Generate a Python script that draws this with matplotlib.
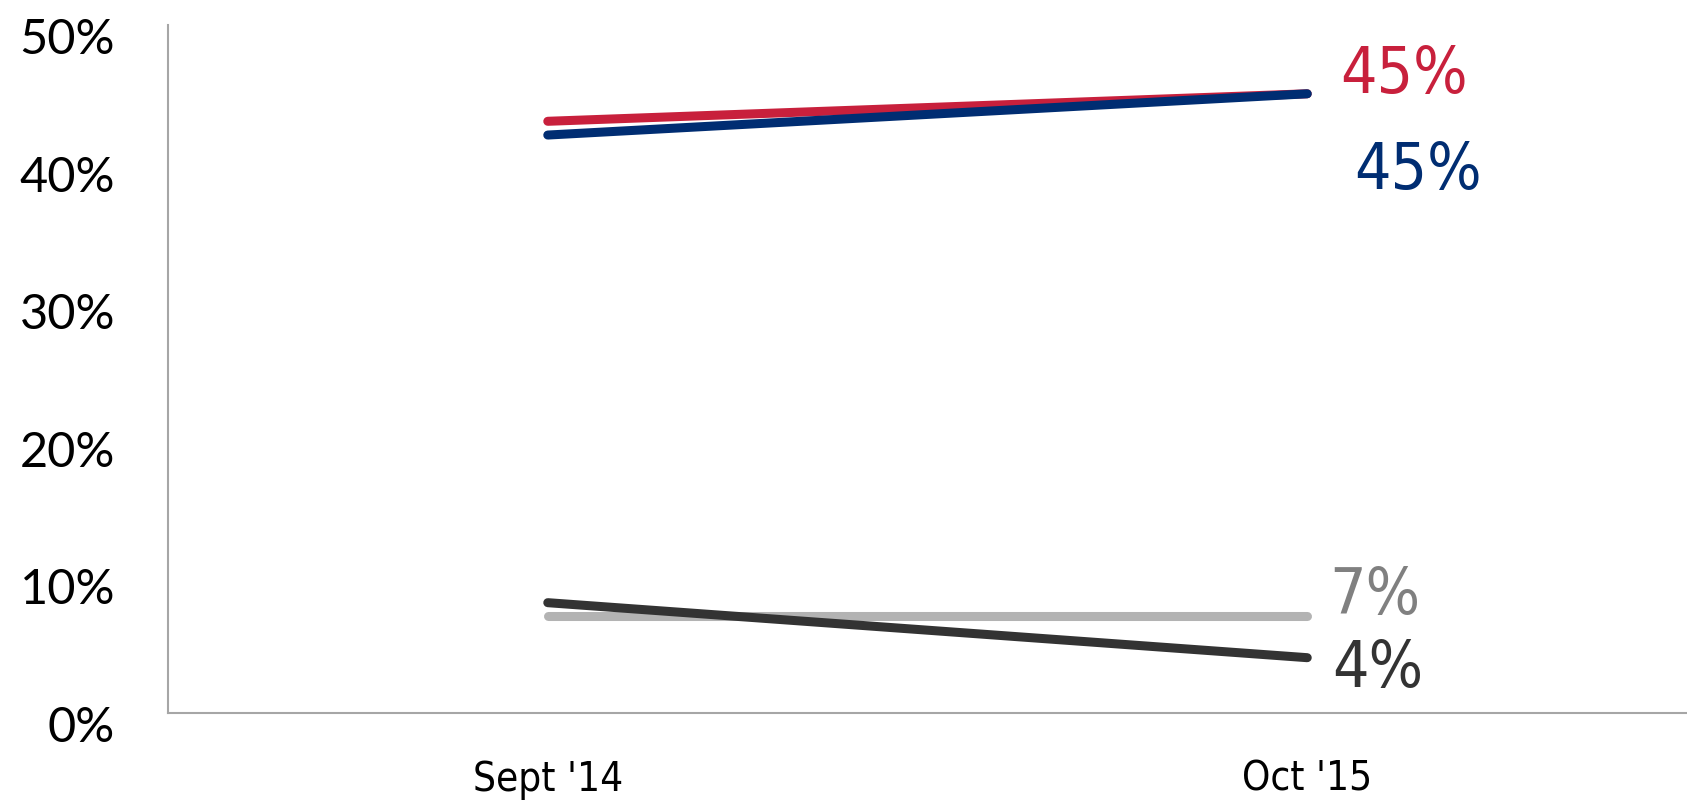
import matplotlib.pyplot as plt
from matplotlib.transforms import ScaledTranslation

categories = ["Sept '14", "Oct '15"]
red_vals = [43, 45]
navy_vals = [42, 45]
lightgrey_vals = [7, 7]
dark_vals = [8, 4]
y_ticks = [0, 10, 20, 30, 40, 50]

fig = plt.figure(figsize=(16.87, 8.03), dpi=100)
ax = fig.add_axes([0.0996, 0.1112, 0.9004, 0.8564])

x = list(range(len(categories)))
series = [
    (lightgrey_vals, '#b3b3b3', '#808080', (22, 21)),
    (dark_vals, '#333333', '#333333', (25, -10)),
    (red_vals, '#c8203c', '#c8203c', (33, 20)),
    (navy_vals, '#002d72', '#002d72', (47, -76)),
]
for vals, col, lab_col, off in series:
    ax.plot(x, vals, '-', color=col, linewidth=6.5, solid_capstyle='round')
    ax.annotate(f'{vals[-1]}%', xy=(x[-1], vals[-1]), xytext=off,
                textcoords='offset pixels', ha='left', va='center',
                fontsize=46, color=lab_col, family='DejaVu Sans', stretch='condensed')

ax.set_xlim(-0.5, 1.5)
ax.set_ylim(0, 50)
ax.set_yticks(y_ticks)
ax.set_yticklabels([f'{t}%' for t in y_ticks], fontsize=35, family=['Lato', 'DejaVu Sans'])
ax.set_xticks(x)
ax.set_xticklabels(categories, fontsize=29, family='DejaVu Sans', stretch='condensed')
ax.tick_params(length=0)
ax.tick_params(axis='y', pad=38)
ax.tick_params(axis='x', pad=33)
shift = ScaledTranslation(0, -0.10, fig.dpi_scale_trans)
for lab in ax.get_yticklabels():
    lab.set_transform(lab.get_transform() + shift)

for s in ['top', 'right']:
    ax.spines[s].set_visible(False)
for s in ['left', 'bottom']:
    ax.spines[s].set_color('#a6a6a6')
    ax.spines[s].set_linewidth(1.5)

fig.savefig('out.png', dpi=100)
